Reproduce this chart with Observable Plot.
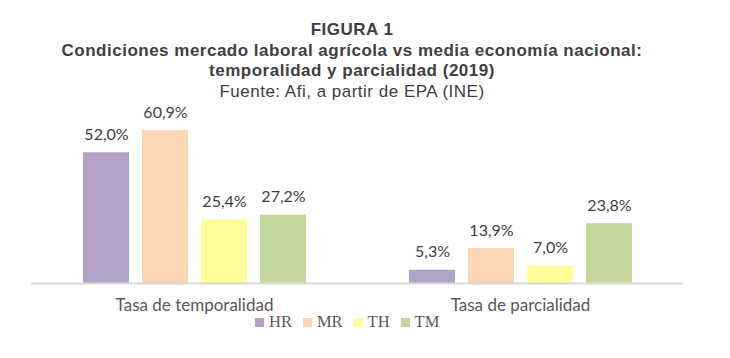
<!DOCTYPE html>
<html>
<head>
<meta charset="utf-8">
<script src="https://cdn.jsdelivr.net/npm/d3@7"></script>
<script src="https://cdn.jsdelivr.net/npm/@observablehq/plot@0.6"></script>
<style>
  html, body { margin: 0; padding: 0; background: #fff; }
  #wrap { position: relative; width: 730px; height: 358px; overflow: hidden; }
  #title { position: absolute; left: -13px; top: 20px; width: 730px; text-align: center;
           font-family: "Liberation Sans", Arial, sans-serif; color: #404040; font-size: 17px;
           letter-spacing: 0.5px; line-height: 20.5px; }
  #title .b { font-weight: bold; }
  #chart { position: absolute; left: 0; top: 0; }
  #legend { position: absolute; left: 255px; top: 314px; display: flex; align-items: center;
            font-family: "Liberation Serif", "Times New Roman", serif; font-size: 16.5px; line-height: 16px; color: #595959; }
  #legend .item { display: flex; align-items: center; margin-right: 11px; }
  #legend .sw { width: 9px; height: 9px; margin-right: 5px; }
</style>
</head>
<body>
<div id="wrap">
  <div id="chart"></div>
  <div id="title">
    <div class="b">FIGURA 1</div>
    <div class="b">Condiciones mercado laboral agrícola vs media economía nacional:</div>
    <div class="b">temporalidad y parcialidad (2019)</div>
    <div>Fuente: Afi, a partir de EPA (INE)</div>
  </div>
  <div id="legend"></div>
</div>
<script>
const categories = ["Tasa de temporalidad", "Tasa de parcialidad"];
const seriesNames = ["HR", "MR", "TH", "TM"];
const temporalidad = [52.0, 60.9, 25.4, 27.2];
const parcialidad = [5.3, 13.9, 7.0, 23.8];
const colors = ["#B3A2C7", "#FCD5B5", "#FFFF99", "#C3D69B"];

const values = [temporalidad, parcialidad];
const data = [];
categories.forEach((c, i) => {
  seriesNames.forEach((s, j) => {
    data.push({category: c, series: s, value: values[i][j]});
  });
});
const fmt = v => v.toFixed(1).replace(".", ",") + "%";

const plot = Plot.plot({
  width: 730,
  height: 358,
  marginTop: 107,
  marginBottom: 75,
  marginLeft: 31,
  marginRight: 47,
  style: {background: "transparent", overflow: "visible"},
  fx: {domain: categories, padding: 0, axis: null},
  x: {domain: seriesNames, paddingInner: 0.225, paddingOuter: 0.86, axis: null},
  y: {domain: [0, 70], axis: null},
  color: {domain: seriesNames, range: colors},
  marks: [
    Plot.barY(data, {fx: "category", x: "series", y: "value", fill: "series"}),
    Plot.ruleY([0], {stroke: "#D9D9D9", strokeWidth: 2}),
    Plot.text(data, {fx: "category", x: "series", y: "value", text: d => fmt(d.value),
      dy: -18, lineAnchor: "middle", fill: "#404040", fontSize: 16,
      fontFamily: "Lato, 'Open Sans', sans-serif"}),
    Plot.text(categories, {fx: d => d, text: d => d, frameAnchor: "bottom", dy: 22,
      lineAnchor: "middle", fill: "#595959", fontSize: 17,
      fontFamily: "Lato, 'Open Sans', sans-serif"})
  ]
});
document.getElementById("chart").appendChild(plot);

const legend = document.getElementById("legend");
seriesNames.forEach((s, i) => {
  const item = document.createElement("div");
  item.className = "item";
  const sw = document.createElement("div");
  sw.className = "sw";
  sw.style.background = colors[i];
  const t = document.createElement("span");
  t.textContent = s;
  item.appendChild(sw);
  item.appendChild(t);
  legend.appendChild(item);
});
</script>
</body>
</html>
